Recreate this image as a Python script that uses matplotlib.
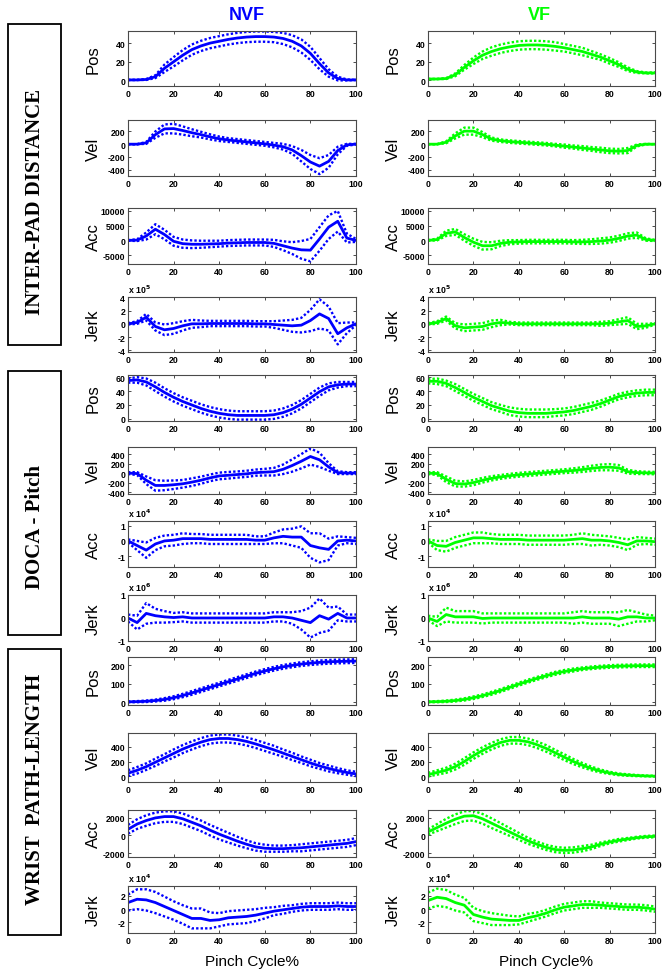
import matplotlib
matplotlib.use('Agg')
import matplotlib.pyplot as plt
from matplotlib.patches import Rectangle
import numpy as np

plt.rcParams['font.family'] = ['Liberation Sans', 'DejaVu Sans']
plt.rcParams['axes.unicode_minus'] = False

# ---------------- data (x = pinch cycle %) ----------------
X = [0, 4, 8, 12, 16, 20, 24, 28, 32, 36, 40, 44, 48, 52, 56, 60, 64, 68, 72, 76, 80, 84, 88, 92, 96, 100]

# INTER-PAD DISTANCE, NVF
ipd_nvf_pos_mean = [0.5, 0.5, 1, 4, 13, 20, 27, 33, 37, 40, 42, 44, 45.5, 46.5, 47, 47, 46.5, 45, 42, 37, 29, 18, 8, 2, 0.5, 0.5]
ipd_nvf_pos_sd = [0, 0, 0.5, 1.5, 4, 5, 5.5, 5.5, 5.5, 5.5, 5.5, 5.5, 5.5, 5.5, 5.5, 5.5, 5.5, 6, 6.5, 7, 7, 6, 4, 2, 0.5, 0]
ipd_nvf_vel_mean = [0, 0, 20, 150, 240, 245, 215, 180, 150, 115, 85, 65, 50, 35, 20, 5, -15, -40, -90, -180, -280, -345, -270, -100, -10, 0]
ipd_nvf_vel_sd = [0, 0, 15, 50, 70, 75, 65, 55, 45, 40, 35, 30, 30, 30, 30, 30, 35, 45, 60, 90, 110, 125, 100, 60, 15, 5]
ipd_nvf_acc_mean = [0, 100, 1500, 3800, 2000, -300, -1100, -1300, -1300, -1200, -1100, -900, -800, -700, -700, -700, -1000, -1800, -2600, -3200, -3300, 500, 4500, 6500, 800, 0]
ipd_nvf_acc_sd = [100, 300, 1200, 1700, 1600, 1500, 1400, 1300, 1200, 1100, 1000, 1000, 1000, 1000, 1000, 1000, 1200, 1500, 2000, 3000, 3800, 4000, 4000, 3500, 1500, 500]
ipd_nvf_jerk_mean = [0, 0.2, 1.0, -0.4, -0.9, -0.7, -0.3, 0, 0, 0.05, 0.05, 0.05, 0.05, 0.05, 0, 0, -0.1, -0.2, -0.3, -0.2, 0.5, 1.5, 0.8, -1.5, -0.6, 0]
ipd_nvf_jerk_sd = [0.1, 0.2, 0.5, 0.6, 0.8, 0.8, 0.7, 0.6, 0.5, 0.4, 0.4, 0.4, 0.4, 0.4, 0.4, 0.4, 0.5, 0.7, 0.9, 1.1, 1.6, 2.2, 1.8, 1.6, 0.8, 0.2]

# INTER-PAD DISTANCE, VF
ipd_vf_pos_mean = [1.5, 1.5, 2, 6, 14, 21, 27, 31, 34, 36, 37.5, 38, 38, 37.5, 36.5, 35, 33, 31, 28, 25, 21, 17, 12, 9, 8, 8]
ipd_vf_pos_sd = [0, 0, 0.5, 1.5, 2.5, 3.5, 4, 4.5, 4.5, 4.5, 4.5, 4.5, 4.5, 4.5, 4.5, 4, 4, 4, 3.5, 3, 3, 2.5, 2, 1, 0.5, 0.5]
ipd_vf_vel_mean = [0, 0, 30, 130, 205, 205, 150, 80, 55, 40, 30, 20, 10, 0, -15, -30, -45, -60, -75, -90, -105, -110, -100, -20, 0, 0]
ipd_vf_vel_sd = [0, 0, 15, 40, 55, 55, 40, 25, 20, 20, 20, 20, 20, 20, 20, 25, 25, 30, 30, 35, 35, 35, 40, 15, 5, 0]
ipd_vf_acc_mean = [0, 300, 2400, 2900, 1000, -600, -1800, -1800, -1000, -600, -500, -400, -400, -400, -400, -400, -500, -500, -400, -200, 100, 700, 1500, 1800, 300, 0]
ipd_vf_acc_sd = [100, 300, 900, 1000, 1100, 1200, 1300, 1200, 900, 700, 600, 600, 600, 600, 600, 600, 600, 700, 800, 900, 900, 900, 900, 900, 400, 200]
ipd_vf_jerk_mean = [0, 0.2, 0.8, -0.3, -0.6, -0.5, -0.4, 0, 0.2, 0.1, 0, 0, 0, 0, 0, 0, 0, 0, 0, 0, 0.1, 0.3, 0.5, -0.4, -0.3, 0]
ipd_vf_jerk_sd = [0.1, 0.2, 0.3, 0.4, 0.5, 0.5, 0.5, 0.5, 0.4, 0.2, 0.2, 0.2, 0.2, 0.2, 0.2, 0.2, 0.2, 0.2, 0.2, 0.3, 0.3, 0.4, 0.5, 0.4, 0.3, 0.1]

# DOCA - Pitch, NVF
doca_nvf_pos_mean = [55, 56, 53, 46, 38, 31, 25, 20, 15, 11, 8, 6, 5, 5, 5, 5, 6, 9, 14, 21, 30, 39, 46, 49, 50, 50]
doca_nvf_pos_sd = [3, 4, 5, 6, 6, 6, 6, 6, 6, 6, 6, 6, 6, 6, 6, 6, 6, 6, 6, 6, 6, 6, 5, 4, 3, 3]
doca_nvf_vel_mean = [0, -10, -150, -260, -260, -245, -225, -190, -150, -100, -60, -45, -30, -15, 10, 20, 30, 80, 160, 250, 350, 280, 130, 10, 0, 0]
doca_nvf_vel_sd = [20, 30, 80, 110, 100, 90, 80, 80, 75, 70, 70, 70, 65, 65, 65, 70, 80, 100, 130, 150, 170, 150, 80, 30, 20, 20]
doca_nvf_acc_mean = [0, -0.3, -0.6, -0.2, 0, 0.05, 0.15, 0.15, 0.15, 0.1, 0.1, 0.1, 0.1, 0.1, 0.05, 0.05, 0.2, 0.3, 0.25, 0.25, -0.3, -0.45, -0.55, 0, 0.05, 0]
doca_nvf_acc_sd = [0.1, 0.3, 0.5, 0.4, 0.35, 0.35, 0.35, 0.3, 0.3, 0.3, 0.3, 0.3, 0.3, 0.3, 0.25, 0.25, 0.35, 0.45, 0.55, 0.7, 0.8, 0.95, 0.7, 0.3, 0.2, 0.2]
doca_nvf_jerk_mean = [0, -0.2, 0.2, 0.1, 0.05, 0.02, 0.05, 0, 0, 0, 0, 0, 0, 0, 0, 0, 0.05, 0.05, 0, -0.1, -0.2, 0.1, -0.05, 0.2, 0, 0]
doca_nvf_jerk_sd = [0.15, 0.3, 0.45, 0.3, 0.25, 0.2, 0.2, 0.2, 0.2, 0.2, 0.2, 0.2, 0.2, 0.2, 0.2, 0.2, 0.2, 0.2, 0.25, 0.4, 0.65, 0.75, 0.5, 0.3, 0.15, 0.15]

# DOCA - Pitch, VF
doca_vf_pos_mean = [54, 54, 51, 45, 38, 31, 25, 19, 15, 11, 9, 8, 8, 8, 9, 10, 12, 15, 18, 22, 27, 32, 35, 37, 38, 38]
doca_vf_pos_sd = [3, 4, 4, 5, 5, 5, 5, 5, 5, 5.5, 5.5, 5.5, 5.5, 5.5, 5, 5, 5, 5, 5, 4.5, 4, 4, 4, 4, 4, 4]
doca_vf_vel_mean = [0, -10, -130, -220, -230, -200, -150, -110, -80, -55, -35, -20, -5, 10, 25, 40, 55, 75, 100, 120, 125, 110, 30, 10, 5, 0]
doca_vf_vel_sd = [20, 30, 60, 60, 55, 55, 50, 45, 40, 40, 40, 40, 40, 40, 40, 40, 45, 50, 55, 60, 65, 60, 40, 30, 25, 25]
doca_vf_acc_mean = [0, -0.3, -0.35, -0.1, 0.05, 0.2, 0.2, 0.15, 0.1, 0.1, 0.1, 0.05, 0.05, 0.05, 0.05, 0.05, 0.1, 0.15, 0.05, 0.05, 0, -0.1, -0.25, 0, 0, -0.05]
doca_vf_acc_sd = [0.1, 0.3, 0.35, 0.35, 0.35, 0.35, 0.35, 0.3, 0.3, 0.3, 0.3, 0.3, 0.3, 0.3, 0.3, 0.3, 0.3, 0.35, 0.35, 0.3, 0.3, 0.3, 0.35, 0.25, 0.2, 0.2]
doca_vf_jerk_mean = [0, -0.15, 0.15, 0.05, 0.05, 0.05, -0.02, 0, 0, 0, 0, 0, 0, 0, 0, 0, 0, 0.05, 0, 0, 0, -0.05, 0.05, 0.05, 0, 0]
doca_vf_jerk_sd = [0.1, 0.2, 0.3, 0.25, 0.25, 0.25, 0.22, 0.2, 0.2, 0.2, 0.2, 0.2, 0.2, 0.2, 0.2, 0.2, 0.25, 0.25, 0.25, 0.25, 0.25, 0.3, 0.3, 0.2, 0.15, 0.1]

# WRIST PATH-LENGTH, NVF
wpl_nvf_pos_mean = [2, 3, 5, 9, 15, 24, 36, 50, 65, 80, 95, 110, 125, 140, 155, 168, 180, 190, 198, 205, 210, 214, 217, 219, 220, 221]
wpl_nvf_pos_sd = [2, 3, 4, 5, 7, 8, 9, 10, 10, 10, 10, 10, 10, 10, 10, 10, 10, 10, 10, 10, 10, 10, 10, 10, 10, 10]
wpl_nvf_vel_mean = [40, 80, 130, 190, 250, 310, 370, 420, 465, 500, 515, 515, 500, 475, 440, 400, 360, 315, 270, 225, 180, 140, 105, 75, 50, 30]
wpl_nvf_vel_sd = [40, 45, 45, 50, 50, 55, 55, 55, 55, 55, 55, 55, 55, 55, 55, 55, 55, 50, 50, 45, 45, 40, 40, 35, 30, 30]
wpl_nvf_acc_mean = [700, 1300, 1700, 2000, 2150, 2150, 1900, 1500, 1100, 600, 150, -250, -650, -1000, -1300, -1450, -1500, -1500, -1450, -1400, -1300, -1200, -1100, -1000, -900, -700]
wpl_nvf_acc_sd = [500, 550, 600, 600, 600, 600, 600, 600, 600, 600, 600, 550, 500, 450, 420, 400, 350, 350, 350, 400, 400, 400, 400, 400, 400, 400]
wpl_nvf_jerk_mean = [1.0, 1.5, 1.4, 1.0, 0.4, -0.2, -0.8, -1.4, -1.4, -1.7, -1.6, -1.3, -1.2, -1.1, -0.9, -0.6, -0.3, -0.1, 0.1, 0.3, 0.4, 0.4, 0.4, 0.5, 0.4, 0.4]
wpl_nvf_jerk_sd = [1.2, 1.5, 1.6, 1.6, 1.5, 1.4, 1.4, 1.5, 1.5, 1.2, 1.0, 1.0, 1.0, 1.0, 0.9, 0.8, 0.6, 0.6, 0.5, 0.5, 0.5, 0.5, 0.5, 0.5, 0.5, 0.5]

# WRIST PATH-LENGTH, VF
wpl_vf_pos_mean = [2, 3, 5, 9, 15, 24, 35, 48, 63, 80, 97, 113, 128, 142, 155, 165, 173, 180, 185, 189, 192, 194, 195, 196, 196, 196]
wpl_vf_pos_sd = [2, 3, 4, 5, 6, 7, 7, 8, 8, 8, 8, 8, 8, 8, 8, 8, 8, 7, 7, 7, 7, 7, 7, 7, 7, 7]
wpl_vf_vel_mean = [20, 50, 80, 130, 200, 280, 350, 410, 460, 490, 490, 470, 430, 380, 320, 260, 200, 150, 105, 70, 45, 25, 15, 8, 3, 0]
wpl_vf_vel_sd = [25, 30, 35, 40, 45, 45, 45, 45, 45, 45, 45, 45, 45, 45, 40, 40, 35, 30, 25, 20, 15, 12, 10, 8, 5, 5]
wpl_vf_acc_mean = [400, 900, 1400, 1850, 2200, 2250, 1900, 1400, 900, 400, -100, -600, -1000, -1350, -1600, -1700, -1650, -1500, -1300, -1000, -750, -550, -400, -250, -150, -100]
wpl_vf_acc_sd = [300, 400, 500, 550, 550, 550, 550, 550, 500, 450, 400, 350, 300, 300, 300, 300, 300, 300, 250, 200, 150, 150, 120, 100, 100, 100]
wpl_vf_jerk_mean = [1.3, 1.8, 1.6, 1.0, 0.6, -0.8, -1.2, -1.5, -1.6, -1.7, -1.7, -1.3, -1.0, -0.6, -0.1, 0.3, 0.5, 0.7, 0.7, 0.6, 0.5, 0.4, 0.3, 0.3, 0.2, 0]
wpl_vf_jerk_sd = [1.2, 1.3, 1.3, 1.2, 1.1, 1.0, 0.9, 0.9, 0.8, 0.7, 0.6, 0.6, 0.5, 0.5, 0.5, 0.5, 0.5, 0.5, 0.5, 0.4, 0.4, 0.4, 0.4, 0.4, 0.4, 0.4]

COL_TITLES = ['NVF', 'VF']
COL_COLORS = ['#0000FF', '#00FF00']
ROW_NAMES = ['Pos', 'Vel', 'Acc', 'Jerk']
SECTIONS = ['INTER-PAD DISTANCE', 'DOCA - Pitch', 'WRIST  PATH-LENGTH']
XTICKS = [0, 20, 40, 60, 80, 100]

# per section: (ylim, yticks, exponent) for Pos, Vel, Acc, Jerk
AXIS_SPECS = [
    [((-6, 53), [0, 20, 40], None),
     ((-500, 380), [-400, -200, 0, 200], None),
     ((-8000, 11000), [-5000, 0, 5000, 10000], None),
     ((-4.25, 4.05), [-4, -2, 0, 2, 4], 5)],
    [((-3, 63), [0, 20, 40, 60], None),
     ((-440, 550), [-400, -200, 0, 200, 400], None),
     ((-1.7, 1.3), [-1, 0, 1], 4),
     ((-1, 1), [-1, 0, 1], 6)],
    [((-15, 243), [0, 100, 200], None),
     ((-80, 590), [0, 200, 400], None),
     ((-2450, 2900), [-2000, 0, 2000], None),
     ((-3.6, 3.5), [-2, 0, 2], 4)],
]

DATA = [
    [[(ipd_nvf_pos_mean, ipd_nvf_pos_sd), (ipd_nvf_vel_mean, ipd_nvf_vel_sd),
      (ipd_nvf_acc_mean, ipd_nvf_acc_sd), (ipd_nvf_jerk_mean, ipd_nvf_jerk_sd)],
     [(ipd_vf_pos_mean, ipd_vf_pos_sd), (ipd_vf_vel_mean, ipd_vf_vel_sd),
      (ipd_vf_acc_mean, ipd_vf_acc_sd), (ipd_vf_jerk_mean, ipd_vf_jerk_sd)]],
    [[(doca_nvf_pos_mean, doca_nvf_pos_sd), (doca_nvf_vel_mean, doca_nvf_vel_sd),
      (doca_nvf_acc_mean, doca_nvf_acc_sd), (doca_nvf_jerk_mean, doca_nvf_jerk_sd)],
     [(doca_vf_pos_mean, doca_vf_pos_sd), (doca_vf_vel_mean, doca_vf_vel_sd),
      (doca_vf_acc_mean, doca_vf_acc_sd), (doca_vf_jerk_mean, doca_vf_jerk_sd)]],
    [[(wpl_nvf_pos_mean, wpl_nvf_pos_sd), (wpl_nvf_vel_mean, wpl_nvf_vel_sd),
      (wpl_nvf_acc_mean, wpl_nvf_acc_sd), (wpl_nvf_jerk_mean, wpl_nvf_jerk_sd)],
     [(wpl_vf_pos_mean, wpl_vf_pos_sd), (wpl_vf_vel_mean, wpl_vf_vel_sd),
      (wpl_vf_acc_mean, wpl_vf_acc_sd), (wpl_vf_jerk_mean, wpl_vf_jerk_sd)]],
]

# ---------------- layout (pixels) ----------------
W, H = 672, 979
ROWS_PX = [(32, 87), (121, 177), (209, 265), (298, 353),
           (376, 422), (448, 495), (522, 568), (596, 642),
           (658, 706), (734, 783), (811, 858), (887, 934)]
COLS_PX = [(128, 356), (428, 655)]
BOXES_PX = [(25, 346), (372, 636), (650, 936)]
SECTION_TEXT_Y = [202, 527, 789]

fig = plt.figure(figsize=(W / 100, H / 100), dpi=100)
SPINE = '#4a4a4a'

for s in range(3):
    for c in range(2):
        color = COL_COLORS[c]
        for q in range(4):
            r = s * 4 + q
            t, b = ROWS_PX[r]
            l, rr = COLS_PX[c]
            ax = fig.add_axes([l / W, 1 - b / H, (rr - l) / W, (b - t) / H])
            mean, sd = DATA[s][c][q]
            mean = np.asarray(mean, float)
            sd = np.asarray(sd, float)
            ax.plot(X, mean + sd, color=color, lw=1.7, linestyle=(0, (1, 0.9)))
            ax.plot(X, mean - sd, color=color, lw=1.7, linestyle=(0, (1, 0.9)))
            ax.plot(X, mean, color=color, lw=2.0)
            ylim, yticks, expo = AXIS_SPECS[s][q]
            ax.set_xlim(0, 100)
            ax.set_ylim(*ylim)
            ax.set_xticks(XTICKS)
            ax.set_yticks(yticks)
            ax.set_xticklabels([str(v) for v in XTICKS])
            ax.set_yticklabels([str(v) for v in yticks])
            ax.tick_params(direction='in', top=True, right=True, length=2.5,
                           width=0.7, labelsize=6.3, pad=2, color=SPINE)
            for lab in ax.get_xticklabels() + ax.get_yticklabels():
                lab.set_fontweight('bold')
            for sp in ax.spines.values():
                sp.set_color(SPINE)
                sp.set_linewidth(0.8)
            ax.set_ylabel(ROW_NAMES[q], fontsize=12)
            ax.yaxis.set_label_coords(-0.12, 0.5)
            if expo is not None:
                ax.text(0.0, 1.04, r'x 10$^{\mathbf{%d}}$' % expo, transform=ax.transAxes,
                        fontsize=6.3, fontweight='bold', ha='left', va='bottom')

# column titles
fig.text(247 / W, 1 - 15 / H, COL_TITLES[0], color=COL_COLORS[0], fontsize=13,
         fontweight='bold', ha='center', va='center')
fig.text(539 / W, 1 - 15 / H, COL_TITLES[1], color=COL_COLORS[1], fontsize=13,
         fontweight='bold', ha='center', va='center')

# x labels
fig.text(252 / W, 1 - 962 / H, 'Pinch Cycle%', fontsize=11, ha='center', va='center')
fig.text(546 / W, 1 - 962 / H, 'Pinch Cycle%', fontsize=11, ha='center', va='center')

# section boxes
for (top, bot), name, ty in zip(BOXES_PX, SECTIONS, SECTION_TEXT_Y):
    fig.patches.append(Rectangle((8 / W, 1 - bot / H), (61 - 8) / W, (bot - top) / H,
                                 transform=fig.transFigure, fill=False, lw=1.3,
                                 ec='black'))
    fig.text(35.5 / W, 1 - ty / H, name, rotation=90, ha='center', va='center',
             family=['Liberation Serif', 'DejaVu Serif'], fontweight='bold', fontsize=15)

fig.savefig('out.png', dpi=100, facecolor='white')
